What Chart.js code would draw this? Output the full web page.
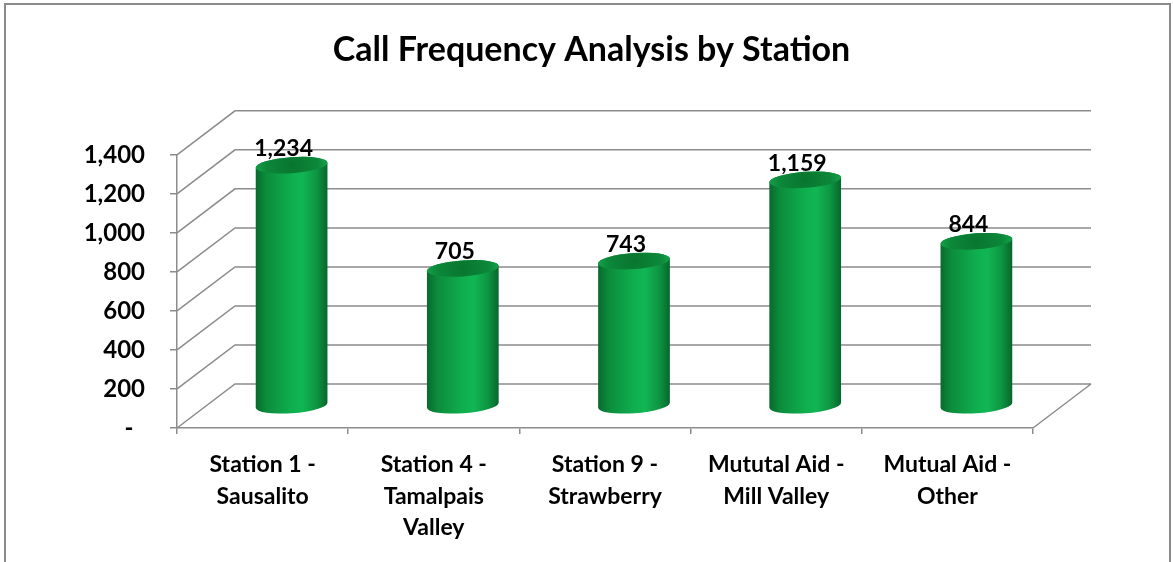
<!DOCTYPE html>
<html>
<head>
<meta charset="utf-8">
<script src="https://cdn.jsdelivr.net/npm/chart.js@4.4.1/dist/chart.umd.min.js"></script>
<style>
  body { margin: 0; background: #fff; }
  canvas { display: block; }
</style>
</head>
<body>
<canvas id="callChart" width="1173" height="562"></canvas>
<script>
var stations = [
  ['Station 1 -', 'Sausalito'],
  ['Station 4 -', 'Tamalpais', 'Valley'],
  ['Station 9 -', 'Strawberry'],
  ['Mututal Aid -', 'Mill Valley'],
  ['Mutual Aid -', 'Other']
]
var callCounts = [1234, 705, 743, 1159, 844]
var axisMax = 1400
var axisStep = 200

// offset of the back wall from the front axes
var depthX = 58
var depthY = -44
var gridColor = '#8c8c8c'
var fontFamily = "Lato, 'Open Sans', sans-serif"

var wallPlugin = {
  id: 'wall',
  beforeDraw: function(chart) {
    var ctx = chart.ctx
    ctx.save()
    ctx.fillStyle = '#fff'
    ctx.fillRect(0, 0, chart.width, chart.height)
    ctx.strokeStyle = '#8a8a8a'
    ctx.lineWidth = 2
    ctx.strokeRect(5, 4, 1165, 620)
    ctx.restore()
  },
  beforeDatasetsDraw: function(chart) {
    var ctx = chart.ctx
    var x = chart.scales.x, y = chart.scales.y
    ctx.save()
    ctx.strokeStyle = gridColor
    ctx.lineWidth = 1.5
    ctx.beginPath()
    // side wall + back wall gridlines
    y.ticks.forEach(function(t) {
      var py = y.getPixelForValue(t.value)
      ctx.moveTo(x.left, py)
      ctx.lineTo(x.left + depthX, py + depthY)
      ctx.lineTo(x.right + depthX, py + depthY)
    })
    // right edge of the floor
    var base = y.getPixelForValue(0)
    ctx.moveTo(x.right, base)
    ctx.lineTo(x.right + depthX, base + depthY)
    ctx.stroke()
    ctx.restore()
  }
}

var cylinderPlugin = {
  id: 'cylinders',
  afterDatasetsDraw: function(chart) {
    var ctx = chart.ctx
    var meta = chart.getDatasetMeta(0)
    meta.data.forEach(function(bar, i) {
      var cx = bar.x + depthX / 2
      var top = bar.y + depthY / 2
      var bottom = bar.base + depthY / 2
      var rx = bar.width / 2, ry = 8, tilt = -0.07

      var body = ctx.createLinearGradient(cx - rx, 0, cx + rx, 0)
      body.addColorStop(0, '#086a2d')
      body.addColorStop(0.15, '#0c8c3c')
      body.addColorStop(0.5, '#0fae4e')
      body.addColorStop(0.65, '#11b654')
      body.addColorStop(0.85, '#0d9541')
      body.addColorStop(1, '#07662c')

      ctx.save()
      ctx.beginPath()
      ctx.ellipse(cx, bottom, rx, ry, tilt, 0, Math.PI)
      ctx.ellipse(cx, top, rx, ry, tilt, Math.PI, 2 * Math.PI)
      ctx.closePath()
      ctx.fillStyle = body
      ctx.fill()

      var cap = ctx.createRadialGradient(cx, top, 2, cx, top, rx)
      cap.addColorStop(0, '#09762f')
      cap.addColorStop(0.7, '#0c883a')
      cap.addColorStop(1, '#14a047')
      ctx.beginPath()
      ctx.ellipse(cx, top, rx, ry, tilt, 0, 2 * Math.PI)
      ctx.fillStyle = cap
      ctx.fill()

      // value label
      ctx.fillStyle = '#000'
      ctx.font = 'bold 23px ' + fontFamily
      ctx.textAlign = 'center'
      ctx.textBaseline = 'alphabetic'
      ctx.fillText(callCounts[i].toLocaleString('en-US'), cx - 8, top - ry - 1)
      ctx.restore()
    })
  }
}

new Chart(document.getElementById('callChart'), {
  type: 'bar',
  data: {
    labels: stations,
    datasets: [{
      data: callCounts,
      backgroundColor: 'rgba(0,0,0,0)',
      categoryPercentage: 0.5,
      barPercentage: 0.84
    }]
  },
  options: {
    responsive: false,
    animation: false,
    layout: { padding: { left: 10, right: 0, top: 0, bottom: 0 } },
    plugins: {
      legend: { display: false },
      tooltip: { enabled: false },
      title: {
        display: true,
        text: 'Call Frequency Analysis by Station',
        color: '#000',
        font: { family: fontFamily, size: 34, weight: 'bold', lineHeight: 1.2 },
        padding: { top: 30, bottom: 84 }
      }
    },
    scales: {
      x: {
        grid: { drawOnChartArea: false, offset: true, tickLength: 6, color: gridColor, lineWidth: 1.5 },
        border: { color: gridColor, width: 1.5 },
        ticks: {
          color: '#000',
          font: { family: fontFamily, size: 23, weight: 'bold', lineHeight: 1.37 },
          padding: 15,
          maxRotation: 0,
          autoSkip: false
        },
        afterFit: function(s) { s.height = 134 }
      },
      y: {
        min: 0,
        max: axisMax,
        grid: { drawOnChartArea: false, tickLength: 7, color: gridColor, lineWidth: 1.5 },
        border: { color: gridColor, width: 1.5 },
        ticks: {
          stepSize: axisStep,
          padding: 25,
          color: '#000',
          font: { family: fontFamily, size: 24, weight: 'bold' },
          callback: function(v) { return v === 0 ? '-  ' : v.toLocaleString('en-US') }
        },
        afterFit: function(s) { s.width = 167 }
      },
      side: {
        position: 'right',
        grid: { display: false },
        border: { display: false },
        ticks: { display: false },
        afterFit: function(s) { s.width = 140 }
      }
    }
  },
  plugins: [wallPlugin, cylinderPlugin]
})
</script>
</body>
</html>
